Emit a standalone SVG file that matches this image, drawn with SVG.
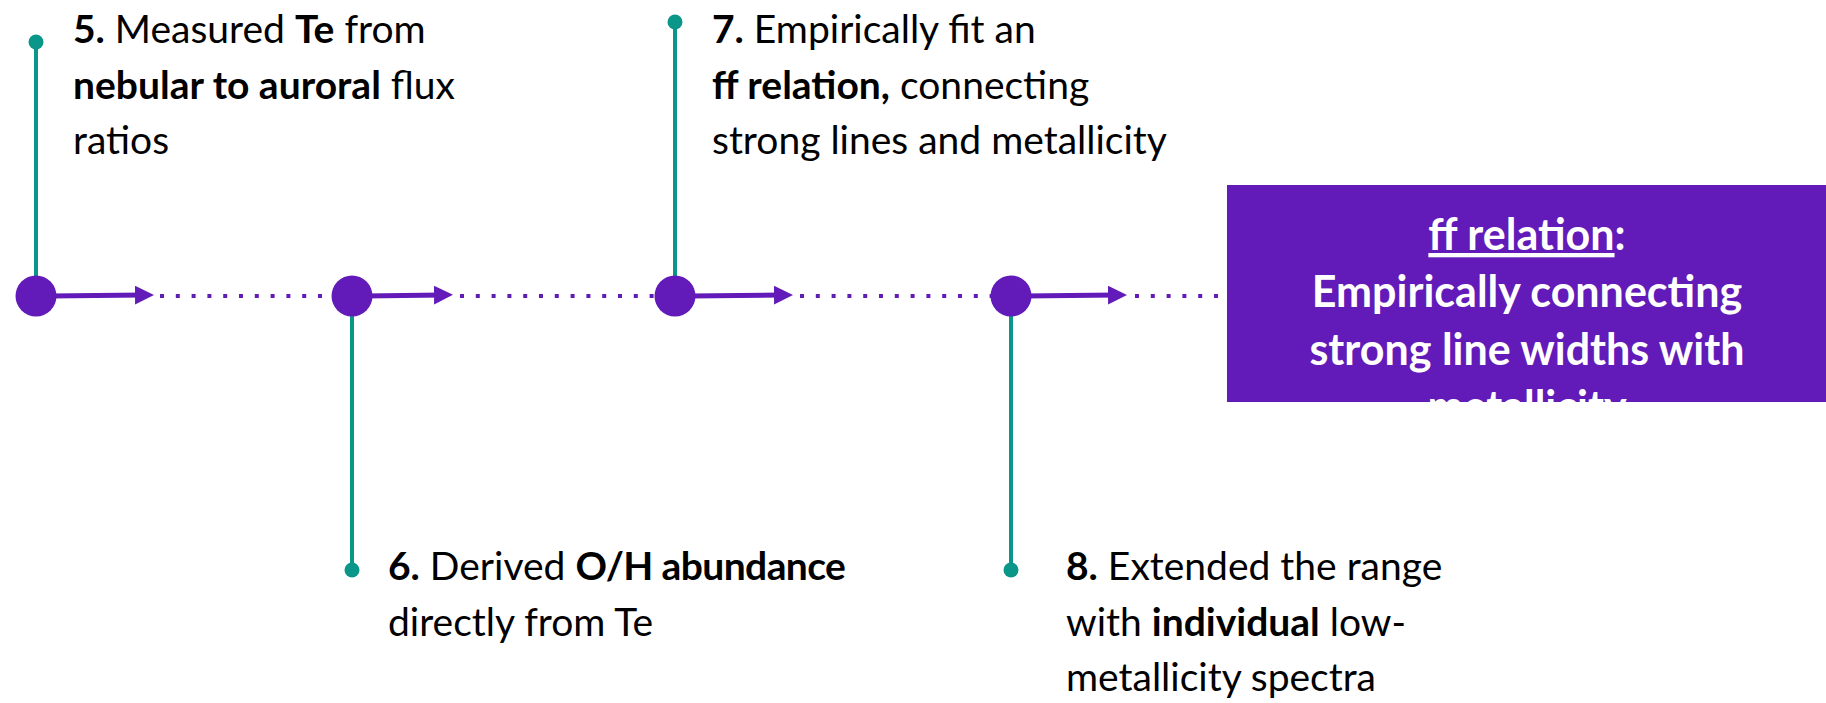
<svg xmlns="http://www.w3.org/2000/svg" width="1826" height="703" viewBox="0 0 1826 703">
  <style>
    .lbl { font-family: Lato, "Liberation Sans", sans-serif; font-size: 39px; fill: #000; }
    .b { font-weight: 700; }
    .stem { stroke: #0a9688; stroke-width: 4; fill: none; }
    .tip { fill: #0a9688; }
    .dot { fill: #621bb8; }
    .dots { stroke: #621bb8; stroke-width: 4; stroke-dasharray: 4 11.8; fill: none; }
    .arrow { stroke: #621bb8; stroke-width: 5; fill: none; marker-end: url(#head); }
    .box { fill: #621bb8; }
    .boxtxt { font-family: Lato, "Liberation Sans", sans-serif; font-size: 43px; font-weight: 700; fill: #fff; text-anchor: middle; }
  </style>
  <defs>
    <marker id="head" markerUnits="userSpaceOnUse" viewBox="0 0 19 19" markerWidth="19" markerHeight="19" refX="8" refY="9.5" orient="auto">
      <path d="M0,0 L19,9.5 L0,19 Z" fill="#621bb8"/>
    </marker>
    <clipPath id="boxclip">
      <rect x="1227" y="185" width="599" height="217"/>
    </clipPath>
  </defs>

  <!-- timeline: dotted track and short arrows leaving each step -->
  <g id="connectors">
    <line class="dots" x1="160" y1="296" x2="332" y2="296"/>
    <line class="dots" x1="460" y1="296" x2="656" y2="296"/>
    <line class="dots" x1="800" y1="296" x2="992" y2="296"/>
    <line class="dots" x1="1135" y1="296" x2="1222" y2="296"/>
    <line class="arrow" x1="50" y1="296" x2="143" y2="295"/>
    <line class="arrow" x1="365" y1="296" x2="442" y2="295"/>
    <line class="arrow" x1="690" y1="296" x2="782" y2="295"/>
    <line class="arrow" x1="1025" y1="296" x2="1116" y2="295"/>
  </g>

  <!-- step 5 -->
  <g id="step5">
    <line class="stem" x1="36" y1="42" x2="36" y2="296"/>
    <circle class="tip" cx="36" cy="42" r="7.5"/>
    <circle class="dot" cx="36" cy="296" r="20.5"/>
    <text class="lbl" x="73" y="43"><tspan class="b">5.</tspan> Measured <tspan class="b">Te</tspan> from</text>
    <text class="lbl" x="73" y="99"><tspan class="b">nebular to auroral</tspan> flux</text>
    <text class="lbl" x="73" y="154">ratios</text>
  </g>

  <!-- step 6 -->
  <g id="step6">
    <line class="stem" x1="352" y1="296" x2="352" y2="570"/>
    <circle class="tip" cx="352" cy="570" r="7.5"/>
    <circle class="dot" cx="352" cy="296" r="20.5"/>
    <text class="lbl" x="388" y="580"><tspan class="b">6.</tspan> Derived <tspan class="b" letter-spacing="-0.6">O/H abundance</tspan></text>
    <text class="lbl" x="388" y="636">directly from Te</text>
  </g>

  <!-- step 7 -->
  <g id="step7">
    <line class="stem" x1="675" y1="22" x2="675" y2="296"/>
    <circle class="tip" cx="675" cy="22" r="7.5"/>
    <circle class="dot" cx="675" cy="296" r="20.5"/>
    <text class="lbl" x="712" y="43"><tspan class="b">7.</tspan> Empirically fit an</text>
    <text class="lbl" x="712" y="99"><tspan class="b">ff relation,</tspan> connecting</text>
    <text class="lbl" x="712" y="154">strong lines and metallicity</text>
  </g>

  <!-- step 8 -->
  <g id="step8">
    <line class="stem" x1="1011" y1="296" x2="1011" y2="570"/>
    <circle class="tip" cx="1011" cy="570" r="7.5"/>
    <circle class="dot" cx="1011" cy="296" r="20.5"/>
    <text class="lbl" x="1066" y="580"><tspan class="b">8.</tspan> Extended the range</text>
    <text class="lbl" x="1066" y="636">with <tspan class="b">individual</tspan> low-</text>
    <text class="lbl" x="1066" y="691">metallicity spectra</text>
  </g>

  <!-- summary box -->
  <g id="summary">
    <rect class="box" x="1227" y="185" width="599" height="217"/>
    <g clip-path="url(#boxclip)">
      <text class="boxtxt" x="1527" y="250"><tspan text-decoration="underline">ff relation</tspan>:</text>
      <text class="boxtxt" x="1527" y="307">Empirically connecting</text>
      <text class="boxtxt" x="1527" y="365">strong line widths with</text>
      <text class="boxtxt" x="1527" y="422">metallicity</text>
    </g>
  </g>
</svg>
